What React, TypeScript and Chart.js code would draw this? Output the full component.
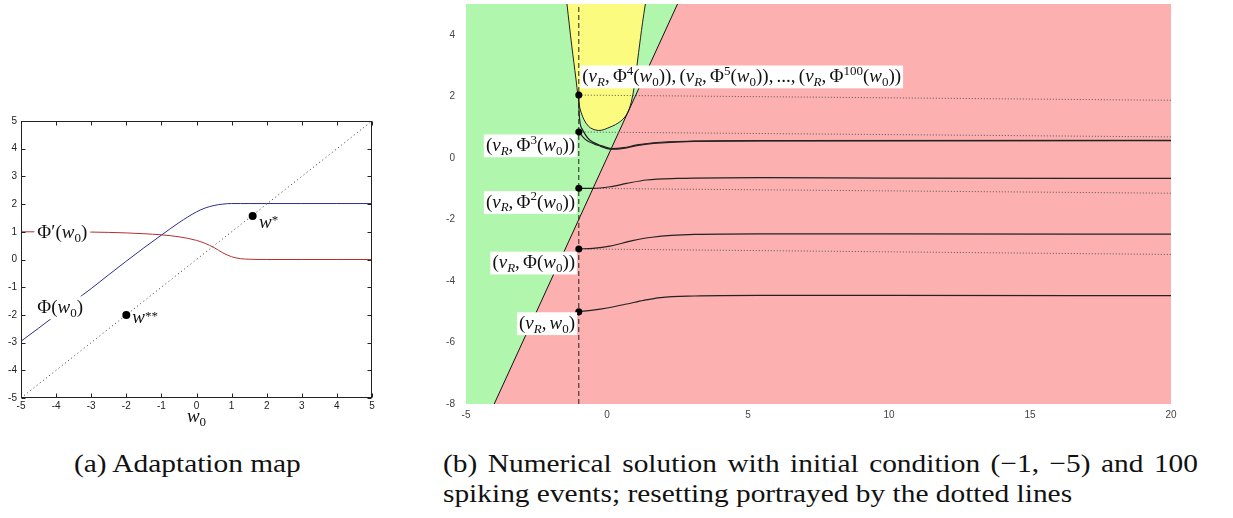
import React, { useEffect, useRef } from 'react';
import { Chart, registerables } from 'chart.js';

Chart.register(...registerables);

const SERIF = "'Liberation Serif', 'Times New Roman', serif";
const SANS = "'Liberation Sans', Arial, sans-serif";

// ---------------- (a) Adaptation map ----------------
const A_TICKS = [-5, -4, -3, -2, -1, 0, 1, 2, 3, 4, 5];
const PHI_X = [-5, -4.5, -4, -3.5, -3, -2.5, -2, -1.5, -1, -0.5, 0, 0.25, 0.5, 0.75, 1, 1.25, 1.5, 2, 3, 4, 5];
const PHI_Y = [-2.95, -2.48, -2.0, -1.52, -1.05, -0.55, -0.06, 0.42, 0.88, 1.33, 1.72, 1.86, 1.95, 2.0, 2.02, 2.02, 2.02, 2.02, 2.02, 2.02, 2.02];
const DPHI_X = [-5, -4, -3, -2, -1.5, -1, -0.5, 0, 0.25, 0.5, 0.75, 1, 1.25, 1.5, 2, 3, 4, 5];
const DPHI_Y = [1.0, 1.0, 0.99, 0.96, 0.93, 0.89, 0.82, 0.69, 0.58, 0.43, 0.24, 0.1, 0.03, 0.01, 0, 0, 0, 0];
const DIAG_X = [-5, 5];
const DIAG_Y = [-5, 5];
const FIXED_X = [1.6, -2];
const FIXED_Y = [1.57, -2];
const A_LABELS = [
  { text: 'Φ′(w_{0})', x: -4.62, y: 0.95, align: 'left', box: true },
  { text: 'Φ(w_{0})', x: -4.62, y: -1.74, align: 'left', box: true },
  { text: 'w^{*}', x: 1.78, y: 1.34, align: 'left', box: false },
  { text: 'w^{**}', x: -1.83, y: -2.12, align: 'left', box: false },
];
const A_XTITLE = 'w_{0}';

// ---------------- (b) Numerical solution ----------------
const B_XTICKS = [-5, 0, 5, 10, 15, 20];
const B_YTICKS = [-8, -6, -4, -2, 0, 2, 4];
const RED_V = [-4, 2.5, 20];
const RED_W = [-8, 5, 5];
const GREEN_V = [-5, -4, 2.5];
const GREEN_W = [-8, -8, 5];
const BOUND_V = [-4, 2.5];
const BOUND_W = [-8, 5];
const YELLOW_V = [-1.42, -1.25, -1.10, -1.03, -0.92, -0.66, -0.30, 0.11, 0.47, 0.71, 0.86, 0.97, 1.12, 1.26, 1.36];
const YELLOW_W = [5, 3.64, 2.56, 2.02, 1.48, 1.03, 0.89, 1.0, 1.18, 1.43, 1.81, 2.35, 3.42, 4.39, 5];
const T1_V = [-1, -0.5, 0, 0.7, 1.3, 1.9, 3.1, 5.4, 10, 20];
const T1_W = [-5, -4.95, -4.88, -4.75, -4.63, -4.54, -4.49, -4.47, -4.47, -4.48];
const T2_V = [-1, -0.5, 0.1, 0.9, 1.6, 3.1, 5.4, 10, 20];
const T2_W = [-2.96, -2.94, -2.87, -2.69, -2.58, -2.49, -2.47, -2.47, -2.48];
const T3_V = [-1, -0.5, 0.1, 0.7, 1.4, 2.5, 5.4, 10, 20];
const T3_W = [-0.99, -0.99, -0.94, -0.83, -0.72, -0.67, -0.64, -0.66, -0.67];
const T4_V = [-1, -0.77, -0.3, 0.17, 0.59, 1.06, 1.65, 2.84, 6, 20];
const T4_W = [0.84, 0.6, 0.4, 0.28, 0.31, 0.4, 0.47, 0.53, 0.55, 0.56];
const T5_V = [-1, -0.99, -0.89, -0.66, -0.18, 0.17, 0.59, 1.06, 1.65, 2.84, 6, 20];
const T5_W = [2.04, 1.48, 0.95, 0.62, 0.39, 0.3, 0.33, 0.42, 0.49, 0.54, 0.56, 0.57];
const D1_V = [-1, 20];
const D1_W = [-2.96, -3.14];
const D2_V = [-1, 20];
const D2_W = [-0.99, -1.15];
const D3_V = [-1, 20];
const D3_W = [0.84, 0.68];
const D4_V = [-1, 20];
const D4_W = [2.04, 1.87];
const RESET_V = [-1, -1];
const RESET_W = [-8, 5];
const DOT_V = [-1, -1, -1, -1, -1];
const DOT_W = [-5, -2.96, -0.99, 0.84, 2.04];
const B_LABELS = [
  { text: '(v_{R},Φ^{4}(w_{0})),(v_{R},Φ^{5}(w_{0})),...,(v_{R},Φ^{100}(w_{0}))', x: -0.95, y: 2.63, align: 'left', box: true },
  { text: '(v_{R},Φ^{3}(w_{0}))', x: -1.06, y: 0.39, align: 'right', box: true },
  { text: '(v_{R},Φ^{2}(w_{0}))', x: -1.06, y: -1.45, align: 'right', box: true },
  { text: '(v_{R},Φ(w_{0}))', x: -1.06, y: -3.42, align: 'right', box: true },
  { text: '(v_{R},w_{0})', x: -1.06, y: -5.39, align: 'right', box: true },
];

const CAPTION_A = '(a) Adaptation map';
const CAPTION_B1 = '(b) Numerical solution with initial condition (−1, −5) and 100';
const CAPTION_B2 = 'spiking events; resetting portrayed by the dotted lines';

const zip = (xs: number[], ys: number[]) => xs.map((x, i) => ({ x, y: ys[i] }));

// ------------- tiny math-text renderer -------------
type Seg = { t: string; it: boolean; lvl: number };
function parseRich(src: string): Seg[] {
  const out: Seg[] = [];
  let i = 0;
  const push = (ch: string, lvl: number) => out.push({ t: ch, it: /[a-zA-Z]/.test(ch), lvl });
  while (i < src.length) {
    const c = src[i];
    if ((c === '_' || c === '^') && src[i + 1] === '{') {
      const end = src.indexOf('}', i + 2);
      for (const ch of src.slice(i + 2, end)) push(ch, c === '_' ? -1 : 1);
      i = end + 1;
    } else {
      push(c, 0);
      i++;
    }
  }
  return out;
}

function drawRich(ctx: CanvasRenderingContext2D, src: string, px: number, py: number, size: number, align: string, box: boolean, pad: number) {
  const segs = parseRich(src);
  ctx.save();
  const fontFor = (s: Seg) => `${s.it ? 'italic ' : ''}${s.lvl ? Math.round(size * 0.7) : size}px ${SERIF}`;
  const widths = segs.map((s) => {
    ctx.font = fontFor(s);
    return ctx.measureText(s.t).width + (s.t === ',' ? size * 0.17 : 0);
  });
  const w = widths.reduce((a, b) => a + b, 0);
  const left = align === 'left' ? px + pad : align === 'right' ? px - pad - w : px - w / 2;
  if (box) {
    ctx.fillStyle = '#ffffff';
    ctx.fillRect(left - pad, py - size * 0.6, w + 2 * pad, size * 1.2);
  }
  const base = py + size * 0.27;
  ctx.fillStyle = '#111';
  ctx.textAlign = 'left';
  ctx.textBaseline = 'alphabetic';
  let x = left;
  segs.forEach((s, i) => {
    ctx.font = fontFor(s);
    let dy = 0;
    if (s.lvl < 0) dy = size * 0.2;
    else if (s.lvl > 0) dy = s.t === '*' ? -size * 0.2 : -size * 0.38;
    ctx.fillText(s.t, x, base + dy);
    x += widths[i];
  });
  ctx.restore();
}

function labelsPlugin(id: string, labels: any[], size: number, pad: number) {
  return {
    id,
    afterDatasetsDraw(chart: any) {
      const { ctx, scales } = chart;
      for (const l of labels) {
        drawRich(ctx, l.text, scales.x.getPixelForValue(l.x), scales.y.getPixelForValue(l.y), size, l.align, l.box, l.box ? pad : 0);
      }
    },
  };
}

const frameA = {
  id: 'frameA',
  afterDatasetsDraw(chart: any) {
    const { ctx, chartArea: a, scales } = chart;
    const { x, y } = scales;
    ctx.save();
    ctx.strokeStyle = '#222';
    ctx.lineWidth = 1;
    const L = Math.round(a.left) + 0.5, T = Math.round(a.top) + 0.5;
    const R = Math.round(a.right) - 0.5, B = Math.round(a.bottom) - 0.5;
    ctx.strokeRect(L, T, R - L, B - T);
    ctx.beginPath();
    for (const t of x.ticks) {
      const p = Math.round(x.getPixelForValue(t.value)) + 0.5;
      ctx.moveTo(p, B); ctx.lineTo(p, B - 4);
      ctx.moveTo(p, T); ctx.lineTo(p, T + 4);
    }
    for (const t of y.ticks) {
      const p = Math.round(y.getPixelForValue(t.value)) + 0.5;
      ctx.moveTo(L, p); ctx.lineTo(L + 4, p);
      ctx.moveTo(R, p); ctx.lineTo(R - 4, p);
    }
    ctx.stroke();
    ctx.restore();
    drawRich(ctx, A_XTITLE, x.getPixelForValue(0), a.bottom + 19, 19, 'center', false, 0);
  },
};

const lineDs = (xs: number[], ys: number[], extra: any) => ({
  data: zip(xs, ys),
  showLine: true,
  pointRadius: 0,
  borderWidth: 1,
  fill: false,
  ...extra,
});

function fixedScale(ticks: number[], min: number, max: number, axis: 'x' | 'y', size: number, pad: number, color: string) {
  return {
    type: 'linear',
    min,
    max,
    grid: { display: false, drawTicks: false },
    border: { display: false },
    ticks: { font: { family: SANS, size: 10 }, color, padding: pad, maxRotation: 0, autoSkip: false },
    afterBuildTicks: (s: any) => {
      s.ticks = ticks.map((v) => ({ value: v }));
    },
    afterFit: (s: any) => {
      if (axis === 'x') s.height = size;
      else s.width = size;
      s.paddingTop = 0;
      s.paddingBottom = 0;
      s.paddingLeft = 0;
      s.paddingRight = 0;
    },
  };
}

function ChartA() {
  const ref = useRef<HTMLCanvasElement>(null);
  useEffect(() => {
    const chart = new Chart(ref.current as HTMLCanvasElement, {
      type: 'scatter',
      data: {
        datasets: [
          { data: zip(FIXED_X, FIXED_Y), pointRadius: 4, pointBackgroundColor: '#000', pointBorderWidth: 0, showLine: false },
          lineDs(PHI_X, PHI_Y, { borderColor: '#2e2e8e', cubicInterpolationMode: 'monotone' }),
          lineDs(DPHI_X, DPHI_Y, { borderColor: '#b3302b', cubicInterpolationMode: 'monotone' }),
          lineDs(DIAG_X, DIAG_Y, { borderColor: '#333', borderDash: [1, 3] }),
        ],
      } as any,
      options: {
        responsive: false,
        animation: false,
        events: [],
        layout: { padding: { left: 0, top: 11, right: 18, bottom: 22 } },
        plugins: { legend: { display: false }, tooltip: { enabled: false } },
        scales: {
          x: fixedScale(A_TICKS, -5, 5, 'x', 20, 2, '#222'),
          y: fixedScale(A_TICKS, -5, 5, 'y', 21, 4, '#222'),
        } as any,
      },
      plugins: [frameA, labelsPlugin('labelsA', A_LABELS, 19, 3)],
    });
    return () => chart.destroy();
  }, []);
  return <canvas ref={ref} width={390} height={330} style={{ position: 'absolute', left: 0, top: 110 }} />;
}

function ChartB() {
  const ref = useRef<HTMLCanvasElement>(null);
  useEffect(() => {
    const chart = new Chart(ref.current as HTMLCanvasElement, {
      type: 'scatter',
      data: {
        datasets: [
          { data: zip(DOT_V, DOT_W), pointRadius: 3.5, pointBackgroundColor: '#000', pointBorderWidth: 0, showLine: false, order: 1 },
          lineDs(RESET_V, RESET_W, { borderColor: '#222', borderDash: [5, 3], order: 2 }),
          lineDs(T1_V, T1_W, { borderColor: '#222', borderWidth: 1.2, cubicInterpolationMode: 'monotone', order: 3 }),
          lineDs(T2_V, T2_W, { borderColor: '#222', borderWidth: 1.2, cubicInterpolationMode: 'monotone', order: 3 }),
          lineDs(T3_V, T3_W, { borderColor: '#222', borderWidth: 1.2, cubicInterpolationMode: 'monotone', order: 3 }),
          lineDs(T4_V, T4_W, { borderColor: '#222', borderWidth: 1.2, cubicInterpolationMode: 'monotone', order: 3 }),
          lineDs(T5_V, T5_W, { borderColor: '#222', borderWidth: 1.2, cubicInterpolationMode: 'monotone', order: 3 }),
          lineDs(D1_V, D1_W, { borderColor: '#555', borderDash: [1, 2], order: 4 }),
          lineDs(D2_V, D2_W, { borderColor: '#555', borderDash: [1, 2], order: 4 }),
          lineDs(D3_V, D3_W, { borderColor: '#555', borderDash: [1, 2], order: 4 }),
          lineDs(D4_V, D4_W, { borderColor: '#555', borderDash: [1, 2], order: 4 }),
          lineDs(BOUND_V, BOUND_W, { borderColor: '#111', order: 5 }),
          lineDs(YELLOW_V, YELLOW_W, { borderColor: '#222', backgroundColor: '#fbfb80', fill: 'shape', tension: 0.35, order: 6 }),
          lineDs(GREEN_V, GREEN_W, { borderColor: 'rgba(0,0,0,0)', borderWidth: 0, backgroundColor: '#b0f7ad', fill: 'end', order: 7 }),
          lineDs(RED_V, RED_W, { borderColor: 'rgba(0,0,0,0)', borderWidth: 0, backgroundColor: '#fdb0b0', fill: 'start', order: 8 }),
        ],
      } as any,
      options: {
        responsive: false,
        animation: false,
        events: [],
        layout: { padding: { left: 0, top: 0, right: 62, bottom: 6 } },
        plugins: { legend: { display: false }, tooltip: { enabled: false } },
        scales: {
          x: fixedScale(B_XTICKS, -5, 20, 'x', 20, 5, '#444'),
          y: fixedScale(B_YTICKS, -8, 5, 'y', 26, 11, '#444'),
        } as any,
      },
      plugins: [labelsPlugin('labelsB', B_LABELS, 19, 2)],
    });
    return () => chart.destroy();
  }, []);
  return <canvas ref={ref} width={793} height={430} style={{ position: 'absolute', left: 440, top: 0 }} />;
}

const capStyle: any = {
  position: 'absolute',
  font: `26px ${SERIF}`,
  lineHeight: '30px',
  color: '#111',
  whiteSpace: 'nowrap',
  transform: 'scaleX(1.13)',
  transformOrigin: '0 0',
};

export default function App() {
  return (
    <div style={{ position: 'fixed', left: 0, top: 0, width: 1233, height: 518, background: '#fff', overflow: 'hidden' }}>
      <ChartA />
      <ChartB />
      <div style={{ ...capStyle, left: 74, top: 449 }}>{CAPTION_A}</div>
      <div style={{ ...capStyle, left: 443, top: 449, width: 755 / 1.13, textAlign: 'justify', textAlignLast: 'justify' }}>{CAPTION_B1}</div>
      <div style={{ ...capStyle, left: 443, top: 479 }}>{CAPTION_B2}</div>
    </div>
  );
}
